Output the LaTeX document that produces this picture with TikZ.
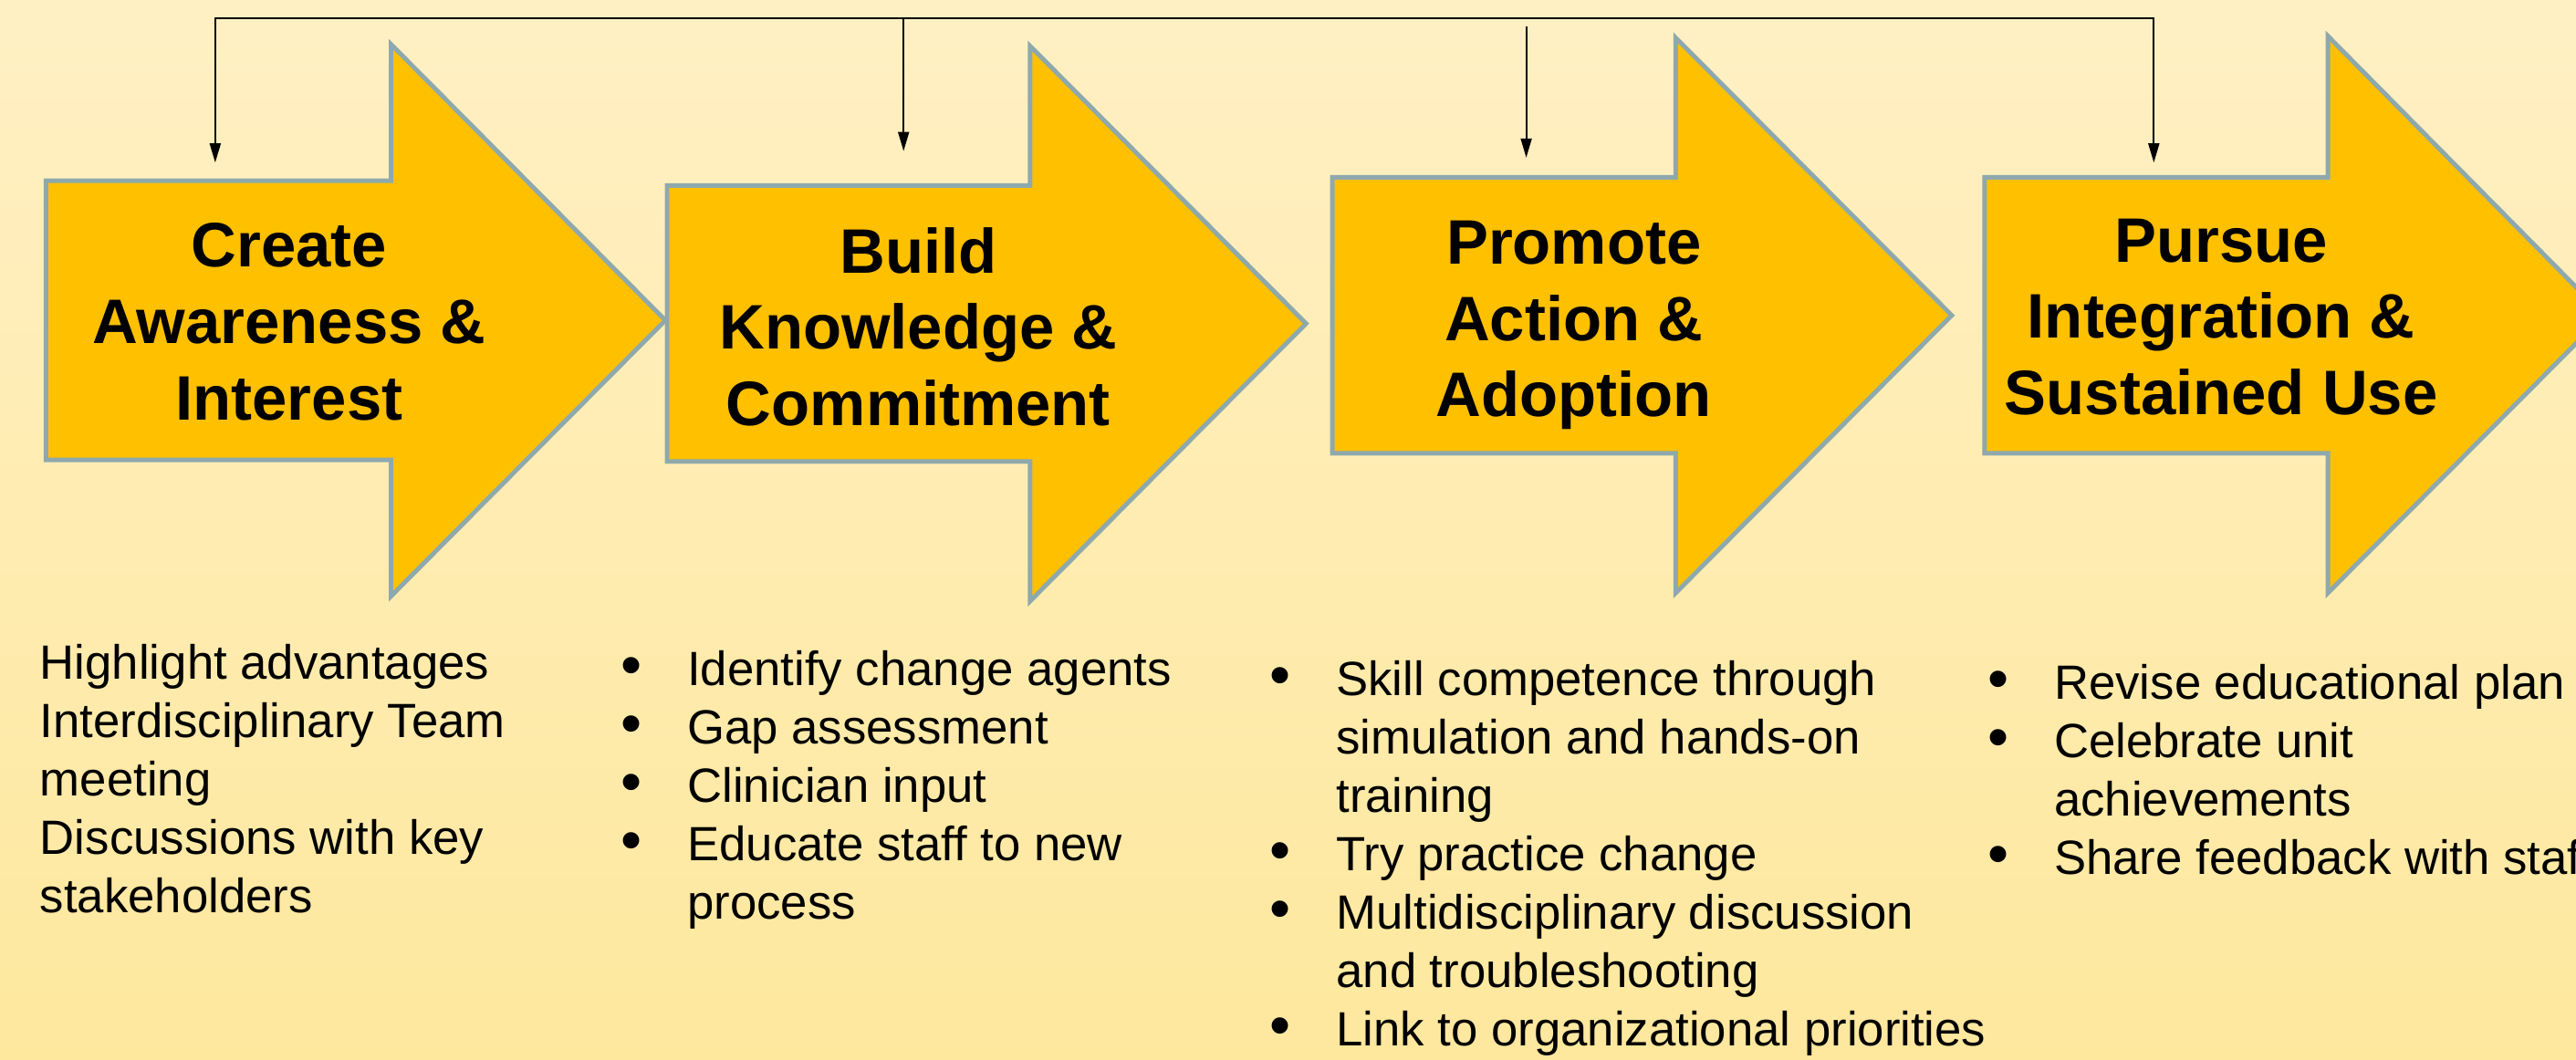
\documentclass[tikz,border=0pt]{standalone}
\usepackage{fontspec}
\setmainfont{Liberation Sans}
\usetikzlibrary{arrows.meta}
\definecolor{bgTop}{RGB}{255,240,196}
\definecolor{bgBottom}{RGB}{254,232,158}
\colorlet{penColor}{black}
\definecolor{fill1}{RGB}{255,192,0}
\definecolor{edge1}{RGB}{142,169,173}
\tikzset{>={Triangle[length=6pt,width=3.4pt]},
  stage/.style={edge1,fill=fill1,line width=1.4pt},
  stagetitle/.style={align=center,inner sep=0pt,
    font=\bfseries\fontsize{19.6}{23.8}\selectfont},
  itemlist/.style={align=left,anchor=north west,inner sep=0pt,
    font=\fontsize{15}{18.2}\selectfont},
  feed/.style={penColor,line width=0.6pt}}
\newcommand{\blt}{\llap{\scalebox{1.25}{\textbullet}\hspace{0.5cm}}}

\begin{document}
\begin{tikzpicture}[x=0.018cm,y=-0.018cm]
    \useasboundingbox (0,0) rectangle (1568,645);
    \fill[top color=bgTop,bottom color=bgBottom] (0,0) rectangle (1568,645);
    \clip (0,0) rectangle (1568,645);

    % stage 1
    \coordinate (A1) at (28,110);
    \coordinate (A2) at (238,110);
    \coordinate (A3) at (238,27);
    \coordinate (A4) at (405,195);
    \coordinate (A5) at (238,363);
    \coordinate (A6) at (238,280);
    \coordinate (A7) at (28,280);
    \draw[stage] (A1)--(A2)--(A3)--(A4)--(A5)--(A6)--(A7)--cycle;

    % stage 2
    \coordinate (B1) at (406,113);
    \coordinate (B2) at (627,113);
    \coordinate (B3) at (627,28);
    \coordinate (B4) at (795,197);
    \coordinate (B5) at (627,366);
    \coordinate (B6) at (627,281);
    \coordinate (B7) at (406,281);
    \draw[stage] (B1)--(B2)--(B3)--(B4)--(B5)--(B6)--(B7)--cycle;

    % stage 3
    \coordinate (C1) at (811,108);
    \coordinate (C2) at (1020,108);
    \coordinate (C3) at (1020,23);
    \coordinate (C4) at (1188,192);
    \coordinate (C5) at (1020,361);
    \coordinate (C6) at (1020,276);
    \coordinate (C7) at (811,276);
    \draw[stage] (C1)--(C2)--(C3)--(C4)--(C5)--(C6)--(C7)--cycle;

    % stage 4
    \coordinate (D1) at (1208,108);
    \coordinate (D2) at (1417,108);
    \coordinate (D3) at (1417,22);
    \coordinate (D4) at (1585,192);
    \coordinate (D5) at (1417,361);
    \coordinate (D6) at (1417,276);
    \coordinate (D7) at (1208,276);
    \draw[stage] (D1)--(D2)--(D3)--(D4)--(D5)--(D6)--(D7)--cycle;

    \node[stagetitle] (create) at (176,196) {Create\\Awareness \&\\Interest};
    \node[stagetitle] (build) at (559,199) {Build\\Knowledge \&\\Commitment};
    \node[stagetitle] (promote) at (958,198) {Promote\\Action \&\\Adoption};
    \node[stagetitle] (pursue) at (1352,193) {Pursue\\Integration \&\\Sustained Use};

    \node[itemlist] (list1) at (24,392) {Highlight advantages\\
      Interdisciplinary Team\\meeting\\Discussions with key\\stakeholders};
    \node[itemlist] (list2) at (418,396) {\blt Identify change agents\\
      \blt Gap assessment\\\blt Clinician input\\
      \blt Educate staff to new\\process};
    \node[itemlist] (list3) at (813,402) {\blt Skill competence through\\
      simulation and hands-on\\training\\\blt Try practice change\\
      \blt Multidisciplinary discussion\\and troubleshooting\\
      \blt Link to organizational priorities};
    \node[itemlist] (list4) at (1250,404) {\blt Revise educational plan\\
      \blt Celebrate unit\\achievements\\\blt Share feedback with staff};

    % feedback line over the top
    \coordinate (top1) at (131,99);
    \coordinate (top2) at (550,92);
    \coordinate (top3) at (929,96);
    \coordinate (top4) at (1311,99);
    \coordinate (j4) at (1311,11);
    \coordinate (j2) at (550,11);
    \coordinate (j3) at (929,16);
    \draw[feed,<->] (top1) |- (j4) -- (top4);
    \draw[feed,->] (j2) -- (top2);
    \draw[feed,->] (j3) -- (top3);
\end{tikzpicture}
\end{document}
